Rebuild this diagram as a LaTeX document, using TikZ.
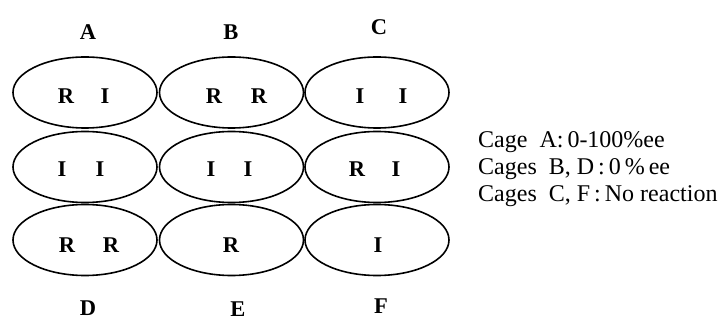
\documentclass[tikz,border=0pt]{standalone}
\usepackage{fontspec}
\setmainfont{Liberation Serif}
\usetikzlibrary{shapes.geometric}
\tikzset{
  cage/.style={draw, ellipse, line width=1.6pt, minimum width=144pt, minimum height=71pt, inner sep=0pt},
  lbl/.style={font=\fontsize{22.5}{24}\selectfont\bfseries, inner sep=0pt, anchor=center},
  note/.style={font=\fontsize{24}{26}\selectfont, inner sep=0pt, anchor=base west}
}
\begin{document}
\begin{tikzpicture}[x=1pt,y=-1pt]
\useasboundingbox (0,0) rectangle (724,320);
% cages
\node[cage] (c11) at (85,92.5) {};
\node[cage] (c12) at (231.5,92.5) {};
\node[cage] (c13) at (377,92.5) {};
\node[cage] (c21) at (85,167) {};
\node[cage] (c22) at (231.5,167) {};
\node[cage] (c23) at (377,167) {};
\node[cage] (c31) at (85,240) {};
\node[cage] (c32) at (231.5,240) {};
\node[cage] (c33) at (377,240) {};
% column/row labels
\node[lbl] (lA) at (88,32) {A};
\node[lbl] (lB) at (231,32) {B};
\node[lbl] (lC) at (379,27) {C};
\node[lbl] (lD) at (88,308) {D};
\node[lbl] (lE) at (238,309) {E};
\node[lbl] (lF) at (381,306) {F};
% row 1 contents
\node[lbl] (r11a) at (66,96) {R};
\node[lbl] (r11b) at (105,96) {I};
\node[lbl] (r12a) at (214,96) {R};
\node[lbl] (r12b) at (259,96) {R};
\node[lbl] (r13a) at (360,96) {I};
\node[lbl] (r13b) at (403,96) {I};
% row 2 contents
\node[lbl] (r21a) at (62,169) {I};
\node[lbl] (r21b) at (100,169) {I};
\node[lbl] (r22a) at (211,169) {I};
\node[lbl] (r22b) at (248,169) {I};
\node[lbl] (r23a) at (357,169) {R};
\node[lbl] (r23b) at (396,169) {I};
% row 3 contents
\node[lbl] (r31a) at (67,245) {R};
\node[lbl] (r31b) at (111,245) {R};
\node[lbl] (r32a) at (231,245) {R};
\node[lbl] (r33a) at (378,245) {I};
% notes
\node[note] (n1) at (478,148) {Cage\enspace A:\,0-100\%ee};
\node[note] (n2) at (478,175) {Cages\enspace B, D\,:\,0\,\%\,ee};
\node[note] (n3) at (478,202) {Cages\enspace C, F\,:\,No reaction};
\end{tikzpicture}
\end{document}
